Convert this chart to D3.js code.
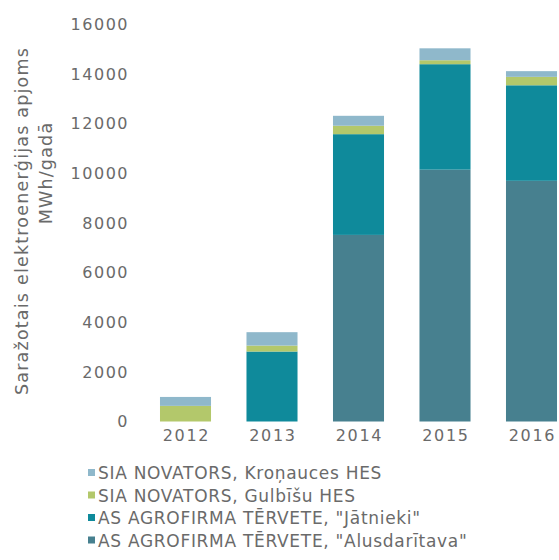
<!DOCTYPE html>
<html lang="lv">
<head>
  <meta charset="utf-8">
  <title>Saražotais elektroenerģijas apjoms</title>
  <script src="https://d3js.org/d3.v7.min.js"></script>
  <style>
    body { margin: 0; background: #fff; }
    text { font-family: "DejaVu Sans", sans-serif; fill: #6a6a6a; }
  </style>
</head>
<body>
<script>
  // data
  var years = ["2012", "2013", "2014", "2015", "2016"];
  var series = [
    "AS AGROFIRMA TĒRVETE, \"Alusdarītava\"",
    "AS AGROFIRMA TĒRVETE, \"Jātnieki\"",
    "SIA NOVATORS, Gulbīšu HES",
    "SIA NOVATORS, Kroņauces HES"
  ];
  var alusdaritava = [0, 0, 7520, 10150, 9700];
  var jatnieki = [0, 2820, 4060, 4250, 3850];
  var gulbisi = [630, 240, 340, 160, 340];
  var kronauces = [360, 540, 400, 480, 230];
  var colors = ["#47808f", "#0f8a9b", "#b3c86b", "#8fb8cb"];
  var yTicks = [0, 2000, 4000, 6000, 8000, 10000, 12000, 14000, 16000];

  var rows = years.map(function(y, i) {
    var r = { year: y };
    r[series[0]] = alusdaritava[i];
    r[series[1]] = jatnieki[i];
    r[series[2]] = gulbisi[i];
    r[series[3]] = kronauces[i];
    return r;
  });

  var svg = d3.select("body").append("svg")
    .attr("width", 559)
    .attr("height", 560);

  var x = d3.scaleBand()
    .domain(years)
    .range([142.25, 574.75])
    .paddingInner(0.41)
    .paddingOuter(0.205);

  var y = d3.scaleLinear()
    .domain([0, 16000])
    .range([421.5, 24.5]);

  var color = d3.scaleOrdinal().domain(series).range(colors);

  var stacked = d3.stack().keys(series)(rows);

  // bars
  svg.append("g").selectAll("g")
    .data(stacked)
    .join("g")
    .attr("fill", function(d) { return color(d.key); })
    .selectAll("rect")
    .data(function(d) { return d; })
    .join("rect")
    .attr("x", function(d) { return x(d.data.year); })
    .attr("y", function(d) { return y(d[1]); })
    .attr("width", x.bandwidth())
    .attr("height", function(d) { return y(d[0]) - y(d[1]); });

  // y axis, labels only
  var yAxis = svg.append("g")
    .attr("transform", "translate(129,0)")
    .call(d3.axisLeft(y).tickValues(yTicks).tickSize(0).tickPadding(0).tickFormat(d3.format("d")));
  yAxis.select(".domain").remove();
  yAxis.selectAll("text")
    .style("font-size", "16px")
    .style("font-family", "DejaVu Sans, sans-serif")
    .style("letter-spacing", "1.5px")
    .attr("fill", "#707070");

  // x axis, labels only
  var xAxis = svg.append("g")
    .attr("transform", "translate(1,430)")
    .call(d3.axisBottom(x).tickSize(0).tickPadding(0));
  xAxis.select(".domain").remove();
  xAxis.selectAll("text")
    .style("font-size", "16px")
    .style("font-family", "DejaVu Sans, sans-serif")
    .style("letter-spacing", "1.7px")
    .attr("fill", "#707070");

  // axis title
  svg.append("text")
    .attr("transform", "translate(28,221) rotate(-90)")
    .attr("text-anchor", "middle")
    .style("font-size", "17.5px")
    .style("letter-spacing", "1.2px")
    .text("Saražotais elektroenerģijas apjoms");
  svg.append("text")
    .attr("transform", "translate(52,173) rotate(-90)")
    .attr("text-anchor", "middle")
    .style("font-size", "17.5px")
    .style("letter-spacing", "1.2px")
    .text("MWh/gadā");

  // legend, top entry is the top of the stack
  var legendOrder = series.slice().reverse();
  var legend = svg.append("g").selectAll("g")
    .data(legendOrder)
    .join("g")
    .attr("transform", function(d, i) { return "translate(88," + (473 + i * 22.5) + ")"; });
  legend.append("rect")
    .attr("x", 0)
    .attr("y", -4)
    .attr("width", 7)
    .attr("height", 7)
    .attr("fill", function(d) { return color(d); });
  legend.append("text")
    .attr("x", 10)
    .attr("y", 6)
    .style("font-size", "17px")
    .style("letter-spacing", "0.7px")
    .text(function(d) { return d; });
</script>
</body>
</html>
